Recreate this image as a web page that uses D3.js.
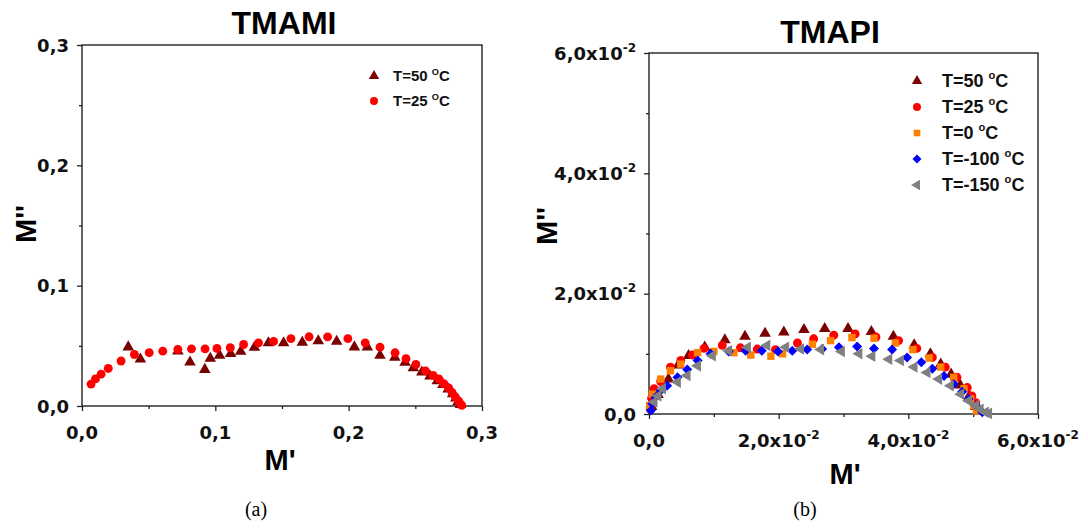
<!DOCTYPE html>
<html><head><meta charset="utf-8">
<script src="https://cdn.jsdelivr.net/npm/d3@7"></script>
<style>body{margin:0;background:#fff}svg{display:block}</style>
</head><body>
<svg id="c" width="1088" height="528"></svg>
<script>
// ---------- DATA ----------
// Panel (a) TMAMI : [M', M'']
const tmami50 = [[0.0347,0.049],[0.0438,0.039],[0.0719,0.0456],[0.081,0.0365],[0.0921,0.0303],[0.0962,0.0395],[0.1032,0.0421],[0.1115,0.0434],[0.119,0.0453],[0.1293,0.0487],[0.1398,0.0525],[0.1512,0.0525],[0.1652,0.0528],[0.1772,0.054],[0.191,0.0537],[0.2043,0.049],[0.214,0.0488],[0.2235,0.0421],[0.2346,0.0403],[0.2423,0.0363],[0.2485,0.0317],[0.2549,0.0282],[0.261,0.0248],[0.2665,0.0208],[0.2707,0.0178],[0.2747,0.014],[0.278,0.0101],[0.2804,0.0065],[0.282,0.0034],[0.2839,0.0011]];
const tmami25 = [[0.0068,0.0182],[0.0101,0.0225],[0.0143,0.0264],[0.0197,0.0312],[0.0293,0.0374],[0.0393,0.0428],[0.0504,0.0443],[0.0606,0.0456],[0.0719,0.047],[0.0821,0.0475],[0.0923,0.0475],[0.1012,0.0478],[0.1112,0.0484],[0.1212,0.0511],[0.1324,0.0525],[0.1437,0.0537],[0.1567,0.056],[0.1703,0.0575],[0.1842,0.0574],[0.1994,0.056],[0.2124,0.0525],[0.2235,0.0489],[0.2348,0.0442],[0.243,0.0393],[0.2504,0.0345],[0.2576,0.0292],[0.2633,0.0254],[0.2678,0.0224],[0.2714,0.0185],[0.275,0.015],[0.2776,0.0112],[0.28,0.0076],[0.2824,0.0042],[0.2838,0.0017],[0.2848,0.0005]];
// Panel (b) TMAPI : [M', M'']
const tmapi50 = [[0.0004,0.0012],[0.0014,0.0032],[0.003,0.0058],[0.0045,0.0081],[0.0061,0.0097],[0.0086,0.0111],[0.0117,0.0123],[0.0148,0.0129],[0.0179,0.0134],[0.0208,0.0136],[0.0239,0.014],[0.0271,0.0142],[0.0307,0.0142],[0.0343,0.0137],[0.0377,0.0129],[0.0409,0.0115],[0.0434,0.01],[0.045,0.0083],[0.0466,0.0066],[0.048,0.0048],[0.0494,0.003],[0.0504,0.0012]];
const tmapi25 = [[0.0002,0.0008],[0.0004,0.0026],[0.0008,0.0042],[0.0018,0.0054],[0.0033,0.0078],[0.0049,0.0089],[0.0067,0.0098],[0.0085,0.0109],[0.0113,0.0114],[0.0141,0.011],[0.0167,0.0108],[0.0195,0.0107],[0.0229,0.0118],[0.0254,0.0125],[0.0285,0.0131],[0.0318,0.0133],[0.035,0.0128],[0.0385,0.0122],[0.0413,0.0109],[0.0437,0.0094],[0.0457,0.0078],[0.0475,0.0061],[0.0491,0.0044],[0.0498,0.003],[0.0504,0.0019]];
const tmapi0 = [[0.0001,0.0014],[0.0005,0.0033],[0.0018,0.0058],[0.0033,0.0072],[0.0049,0.0083],[0.0075,0.0102],[0.01,0.0104],[0.0131,0.0102],[0.0157,0.0098],[0.0188,0.0096],[0.0206,0.01],[0.0252,0.0116],[0.028,0.0122],[0.0313,0.0127],[0.0347,0.0126],[0.038,0.0118],[0.0407,0.0107],[0.0432,0.0093],[0.045,0.0078],[0.047,0.0061],[0.0486,0.0042],[0.0496,0.0025],[0.0501,0.0014],[0.0505,0.0005]];
const tmapiM100 = [[0.0003,0.0006],[0.0005,0.0017],[0.001,0.0028],[0.0018,0.0039],[0.0028,0.0047],[0.0044,0.0061],[0.0059,0.0074],[0.0075,0.0089],[0.0095,0.01],[0.0123,0.0104],[0.0149,0.0105],[0.0174,0.0105],[0.0199,0.0104],[0.0221,0.0105],[0.0244,0.0107],[0.0267,0.0108],[0.0293,0.0111],[0.0321,0.0112],[0.0347,0.0109],[0.0375,0.0107],[0.0398,0.0094],[0.042,0.0086],[0.0437,0.0075],[0.0455,0.0063],[0.047,0.005],[0.0483,0.0037],[0.0493,0.0025],[0.0504,0.0014],[0.0514,0.0003]];
const tmapiM150 = [[0.0008,0.002],[0.0014,0.003],[0.0021,0.0042],[0.0044,0.0053],[0.0059,0.0064],[0.0075,0.008],[0.0098,0.0097],[0.0123,0.0105],[0.0152,0.0111],[0.0182,0.0114],[0.0211,0.0111],[0.0234,0.0108],[0.0265,0.0107],[0.0297,0.0104],[0.0324,0.01],[0.0344,0.0096],[0.037,0.0091],[0.0388,0.0089],[0.0409,0.0078],[0.0429,0.0069],[0.0447,0.0058],[0.0465,0.0047],[0.0481,0.0033],[0.0493,0.0022],[0.0504,0.0014],[0.0511,0.0008],[0.0519,0.0003],[0.0524,0.0001]];

const tmamiTickValues = [0, 0.1, 0.2, 0.3];
const tmamiTickLabels = ["0,0", "0,1", "0,2", "0,3"];
const tmamiMinorTicks = [0.05, 0.15, 0.25];
const tmapiTickValues = [0, 0.02, 0.04, 0.06];
const tmapiTickMain = ["0,0", "2,0x10", "4,0x10", "6,0x10"];
const tmapiTickExp = ["", "-2", "-2", "-2"];
const tmapiMinorTicks = [0.01, 0.03, 0.05];

const tmamiLegend = ["T=50 ", "T=25 "];
const tmapiLegend = ["T=50 ", "T=25 ", "T=0 ", "T=-100 ", "T=-150 "];

// ---------- DRAW ----------
const svg = d3.select("#c");
const TICKF = "'DejaVu Sans', sans-serif";
const ARIAL = "'Liberation Sans', Arial, sans-serif";

const shapes = {
  tri:  {type: d3.symbolTriangle, rot: 0},
  circ: {type: d3.symbolCircle, rot: 0},
  sq:   {type: d3.symbolSquare, rot: 0},
  dia:  {type: d3.symbolSquare, rot: 45},
  ltri: {type: d3.symbolTriangle, rot: -90}
};

function drawPanel(cfg) {
  const x = d3.scaleLinear().domain(cfg.domain).range([cfg.left, cfg.right]);
  const y = d3.scaleLinear().domain(cfg.domain).range([cfg.bottom, cfg.top]);
  const g = svg.append("g");

  const ax = (axis, tr) => {
    const a = g.append("g").attr("transform", tr).call(axis);
    a.select(".domain").remove();
    a.selectAll("line").attr("stroke", "#222").attr("stroke-width", 1.3);
    a.selectAll("text").remove();
  };
  ax(d3.axisBottom(x).tickValues(cfg.minor).tickSize(3), `translate(0,${cfg.bottom})`);
  ax(d3.axisBottom(x).tickValues(cfg.ticks).tickSize(5), `translate(0,${cfg.bottom})`);
  ax(d3.axisLeft(y).tickValues(cfg.minor).tickSize(3), `translate(${cfg.left},0)`);
  ax(d3.axisLeft(y).tickValues(cfg.ticks).tickSize(5), `translate(${cfg.left},0)`);

  g.append("rect").attr("x", cfg.left).attr("y", cfg.top)
    .attr("width", cfg.right - cfg.left).attr("height", cfg.bottom - cfg.top)
    .attr("fill", "none").attr("stroke", "#222").attr("stroke-width", 1.4);

  // tick labels
  cfg.ticks.forEach((v, i) => {
    const tx = g.append("text").attr("x", x(v)).attr("y", cfg.bottom + 33)
      .attr("text-anchor", "middle").attr("font-family", TICKF)
      .attr("font-weight", "bold").attr("font-size", 18).attr("fill", "#111");
    tx.append("tspan").text(cfg.main[i]);
    if (cfg.exp[i]) tx.append("tspan").attr("font-size", 12).attr("dy", -8).text(cfg.exp[i]);
    const ty = g.append("text").attr("x", cfg.left - 13).attr("y", y(v) + 6.5)
      .attr("text-anchor", "end").attr("font-family", TICKF)
      .attr("font-weight", "bold").attr("font-size", 18).attr("fill", "#111");
    ty.append("tspan").text(cfg.main[i]);
    if (cfg.exp[i]) ty.append("tspan").attr("font-size", 12).attr("dy", -8).text(cfg.exp[i]);
  });

  // title & axis titles
  g.append("text").attr("x", cfg.titleX).attr("y", cfg.titleY).attr("text-anchor", "middle")
    .attr("font-family", ARIAL).attr("font-weight", "bold").attr("font-size", 32).text(cfg.title);
  g.append("text").attr("x", cfg.xtX).attr("y", cfg.xtY).attr("text-anchor", "middle")
    .attr("font-family", ARIAL).attr("font-weight", "bold").attr("font-size", 29).text("M'");
  g.append("text").attr("transform", `translate(${cfg.ytX},${cfg.ytY}) rotate(-90)`)
    .attr("text-anchor", "middle")
    .attr("font-family", ARIAL).attr("font-weight", "bold").attr("font-size", 29).text("M''");
  g.append("text").attr("x", cfg.capX).attr("y", 516).attr("text-anchor", "middle")
    .attr("font-family", "'Liberation Serif', 'Times New Roman', serif").attr("font-size", 20).text(cfg.caption);

  // series
  cfg.series.forEach(s => {
    const sh = shapes[s.shape];
    const sym = d3.symbol().type(sh.type).size(s.size);
    g.append("g").selectAll("path").data(s.data).join("path")
      .attr("d", sym)
      .attr("transform", d => `translate(${x(d[0])},${y(d[1])}) rotate(${sh.rot})`)
      .attr("fill", s.color);
  });

  // legend
  cfg.series.forEach((s, i) => {
    const ry = cfg.legY + i * cfg.legStep;
    const sh = shapes[s.shape];
    g.append("path").attr("d", d3.symbol().type(sh.type).size(s.size * 0.8))
      .attr("transform", `translate(${cfg.legX},${ry}) rotate(${sh.rot})`).attr("fill", s.color);
    const t = g.append("text").attr("x", cfg.legX + cfg.legGap).attr("y", ry + cfg.legFont * 0.36)
      .attr("font-family", ARIAL).attr("font-weight", "bold").attr("font-size", cfg.legFont).attr("fill", "#111");
    t.append("tspan").text(cfg.legend[i]);
    t.append("tspan").attr("font-size", cfg.legFont * 0.62).attr("dy", -cfg.legFont * 0.45).text(cfg.degree);
    t.append("tspan").attr("dy", cfg.legFont * 0.45).text("C");
  });
}

drawPanel({
  domain: [0, 0.3], left: 82, right: 482, top: 45, bottom: 406,
  ticks: tmamiTickValues, minor: tmamiMinorTicks, main: tmamiTickLabels, exp: ["", "", "", ""],
  title: "TMAMI", titleX: 284, titleY: 34,
  xtX: 280, xtY: 470, ytX: 36, ytY: 224, capX: 256, caption: "(a)",
  legend: tmamiLegend, degree: "O", legX: 374, legY: 76, legStep: 25, legGap: 19, legFont: 15,
  series: [
    {data: tmami50, shape: "tri", color: "#7b0000", size: 58},
    {data: tmami25, shape: "circ", color: "#ff0000", size: 62}
  ]
});

drawPanel({
  domain: [0, 0.06], left: 649, right: 1038, top: 53, bottom: 414,
  ticks: tmapiTickValues, minor: tmapiMinorTicks, main: tmapiTickMain, exp: tmapiTickExp,
  title: "TMAPI", titleX: 830, titleY: 43,
  xtX: 845, xtY: 484, ytX: 557, ytY: 226, capX: 805, caption: "(b)",
  legend: tmapiLegend, degree: "o", legX: 917, legY: 81, legStep: 26, legGap: 25, legFont: 18,
  series: [
    {data: tmapi50, shape: "tri", color: "#7b0000", size: 58},
    {data: tmapi25, shape: "circ", color: "#ff0000", size: 62},
    {data: tmapi0, shape: "sq", color: "#ff8000", size: 55},
    {data: tmapiM100, shape: "dia", color: "#0000ff", size: 50},
    {data: tmapiM150, shape: "ltri", color: "#808080", size: 58}
  ]
});
</script>
</body></html>
